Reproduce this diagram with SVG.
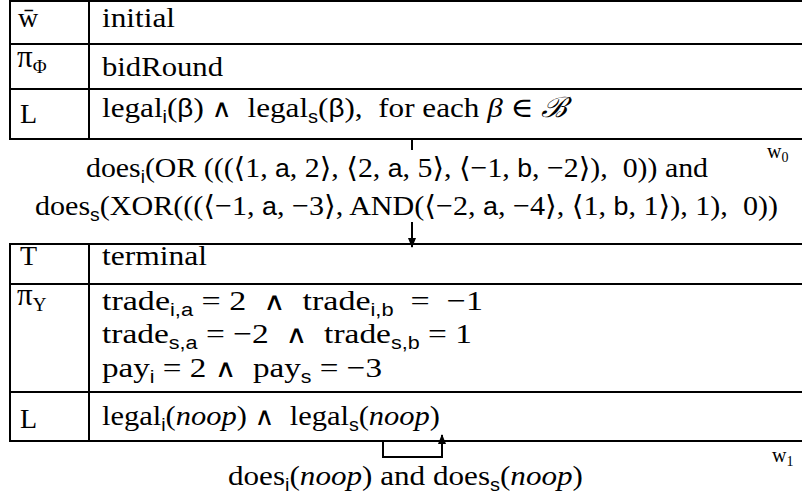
<svg xmlns="http://www.w3.org/2000/svg" width="802" height="500" viewBox="0 0 802 500">
<style>
.t{font-family:"Liberation Serif","DejaVu Serif",serif;font-size:28px;fill:#000;white-space:pre}
.sub{font-family:"Liberation Sans","DejaVu Sans",sans-serif;font-size:18px}
.sf{font-family:"Liberation Sans","DejaVu Sans",sans-serif;font-size:25px}
.it{font-style:italic}
.and{font-family:"DejaVu Sans",sans-serif;font-size:25px}
.ws{font-size:20px}
.ws0{font-size:14px}
.gs{font-size:19px}
.pi{font-size:31px}
.ln{stroke:#000;stroke-width:2;fill:none}
</style>
<defs>
<marker id="ah" markerWidth="10" markerHeight="8" refX="9" refY="4" orient="auto" markerUnits="userSpaceOnUse">
<path d="M0,0 L10,4 L0,8 Z" fill="#000"/>
</marker>
</defs>

<g id="w0">
<rect class="ln" x="10" y="1" width="810" height="138"/>
<line class="ln" x1="10" y1="44" x2="820" y2="44"/>
<line class="ln" x1="10" y1="89" x2="820" y2="89"/>
<line class="ln" x1="89" y1="1" x2="89" y2="139"/>
<text class="t" x="18" y="27">w̄</text>
<text class="t" x="102" y="27" textLength="73" lengthAdjust="spacingAndGlyphs">initial</text>
<text class="t" x="17" y="67"><tspan class="pi">π</tspan><tspan class="gs" dy="6">Φ</tspan></text>
<text class="t" x="102" y="76" textLength="121" lengthAdjust="spacingAndGlyphs">bidRound</text>
<text class="t" x="20" y="123">L</text>
<text class="t" x="102" y="117" textLength="465" lengthAdjust="spacingAndGlyphs">legal<tspan class="sub" dy="6">i</tspan><tspan dy="-6">(</tspan><tspan class="sf">β</tspan>) <tspan class="and">∧</tspan>  legal<tspan class="sub" dy="6">s</tspan><tspan dy="-6">(</tspan><tspan class="sf">β</tspan>),  for each <tspan class="it">β</tspan> ∈ <tspan class="it">ℬ</tspan></text>
<text class="t ws" x="767" y="158">w<tspan class="ws0" dy="4">0</tspan></text>
</g>

<g id="w1">
<rect class="ln" x="10" y="244" width="810" height="197"/>
<line class="ln" x1="10" y1="284" x2="820" y2="284"/>
<line class="ln" x1="10" y1="392" x2="820" y2="392"/>
<line class="ln" x1="89" y1="244" x2="89" y2="441"/>
<text class="t" x="20" y="265">T</text>
<text class="t" x="102" y="265" textLength="105" lengthAdjust="spacingAndGlyphs">terminal</text>
<text class="t" x="17" y="305"><tspan class="pi">π</tspan><tspan class="gs" dy="6">Υ</tspan></text>
<text class="t" x="102" y="310" textLength="381" lengthAdjust="spacingAndGlyphs">trade<tspan class="sub" dy="6">i,a</tspan><tspan dy="-6"> = 2  </tspan><tspan class="and">∧</tspan>  trade<tspan class="sub" dy="6">i,b</tspan><tspan dy="-6">  =  −1</tspan></text>
<text class="t" x="102" y="343" textLength="370" lengthAdjust="spacingAndGlyphs">trade<tspan class="sub" dy="6">s,a</tspan><tspan dy="-6"> = −2  </tspan><tspan class="and">∧</tspan>  trade<tspan class="sub" dy="6">s,b</tspan><tspan dy="-6"> = 1</tspan></text>
<text class="t" x="102" y="377" textLength="280" lengthAdjust="spacingAndGlyphs">pay<tspan class="sub" dy="6">i</tspan><tspan dy="-6"> = 2 </tspan><tspan class="and">∧</tspan>  pay<tspan class="sub" dy="6">s</tspan><tspan dy="-6"> = −3</tspan></text>
<text class="t" x="20" y="428">L</text>
<text class="t" x="102" y="425" textLength="338" lengthAdjust="spacingAndGlyphs">legal<tspan class="sub" dy="6">i</tspan><tspan dy="-6">(</tspan><tspan class="it">noop</tspan>) <tspan class="and">∧</tspan>  legal<tspan class="sub" dy="6">s</tspan><tspan dy="-6">(</tspan><tspan class="it">noop</tspan>)</text>
<text class="t ws" x="772" y="462">w<tspan class="ws0" dy="4">1</tspan></text>
</g>

<g id="connectors">
<line class="ln" x1="412" y1="139" x2="412" y2="150"/>
<line class="ln" x1="412" y1="222" x2="412" y2="247" marker-end="url(#ah)"/>
<text class="t" x="86" y="177" textLength="622" lengthAdjust="spacingAndGlyphs">does<tspan class="sub" dy="6">i</tspan><tspan dy="-6">(OR (((⟨1, </tspan><tspan class="sf">a</tspan>, 2⟩, ⟨2, <tspan class="sf">a</tspan>, 5⟩, ⟨−1, <tspan class="sf">b</tspan>, −2⟩),  0)) and</text>
<text class="t" x="35" y="215" textLength="743" lengthAdjust="spacingAndGlyphs">does<tspan class="sub" dy="6">s</tspan><tspan dy="-6">(XOR(((⟨−1, </tspan><tspan class="sf">a</tspan>, −3⟩, AND(⟨−2, <tspan class="sf">a</tspan>, −4⟩, ⟨1, <tspan class="sf">b</tspan>, 1⟩), 1),  0))</text>
<path class="ln" d="M383,441 V457 H442 V435" marker-end="url(#ah)"/>
<text class="t" x="228" y="485" textLength="355" lengthAdjust="spacingAndGlyphs">does<tspan class="sub" dy="6">i</tspan><tspan dy="-6">(</tspan><tspan class="it">noop</tspan>) and does<tspan class="sub" dy="6">s</tspan><tspan dy="-6">(</tspan><tspan class="it">noop</tspan>)</text>
</g>
</svg>
